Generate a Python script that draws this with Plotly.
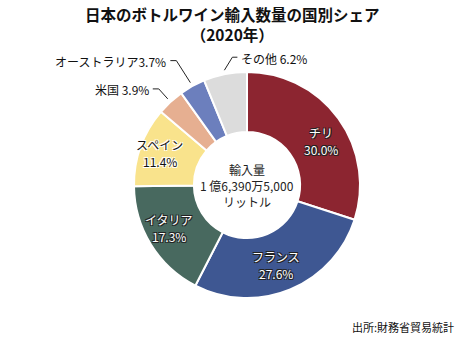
import math
import plotly.graph_objects as go

# ---- data ----
countries = ["チリ", "フランス", "イタリア", "スペイン", "米国", "オーストラリア", "その他"]
shares = [30.0, 27.6, 17.3, 11.4, 3.9, 3.7, 6.2]
colors = ["#8C2530", "#3E5792", "#48695F", "#F9E38C", "#E6AF91", "#6C7FBD", "#DCDCDC"]
title_lines = ["日本のボトルワイン輸入数量の国別シェア", "（2020年）"]
center_lines = ["輸入量", "1 億6,390万5,000", "リットル"]
source_text = "出所:財務省貿易統計"

# ---- geometry / style ----
W, H = 465, 340
CX, CY, R = 247, 185, 113
HOLE = 0.47
FONT = "Noto Sans CJK JP"
L, T = CX - R, CY - R


def to_paper(px, py):
    return (px - L) / (2 * R), 1 - (py - T) / (2 * R)


total = sum(shares)
mids = []
acc = 0.0
for v in shares:
    mids.append(360.0 * (acc + v / 2) / total)
    acc += v


def polar(deg, r):
    a = math.radians(deg)
    return CX + r * math.sin(a), CY - r * math.cos(a)


fig = go.Figure(go.Pie(
    labels=countries, values=shares, sort=False, direction="clockwise",
    rotation=0, hole=HOLE, textinfo="none", hoverinfo="label+percent",
    marker=dict(colors=colors, line=dict(color="white", width=2)),
    showlegend=False,
))

annotations = []
shapes = []

DARK_OUT = "1px 1px 0 #222, -1px -1px 0 #222, 1px -1px 0 #222, -1px 1px 0 #222"
LIGHT_OUT = "1px 1px 0 #fff, -1px -1px 0 #fff, 1px -1px 0 #fff, -1px 1px 0 #fff"
inside_style = {
    0: dict(color="white", shadow=DARK_OUT, r=86, dang=5.6),
    1: dict(color="white", shadow=DARK_OUT, r=85, dang=2.5),
    2: dict(color="white", shadow=DARK_OUT, r=89, dang=2.5),
    3: dict(color="#111", shadow=LIGHT_OUT, r=93, dang=0.0),
}
LINE_GAP = 17
for i, st in inside_style.items():
    px, py = polar(mids[i] + st["dang"], st["r"])
    for k, line in enumerate([countries[i], f"{shares[i]:.1f}%"]):
        xp, yp = to_paper(px, py + (k - 0.5) * LINE_GAP)
        annotations.append(dict(
            x=xp, y=yp, xref="paper", yref="paper", showarrow=False,
            text=line,
            font=dict(family=FONT, size=12, color=st["color"], shadow=st["shadow"]),
            xanchor="center", yanchor="middle",
        ))

outside_style = {
    4: dict(off=(-9, -10), run=-6, sep=" "),
    5: dict(off=(-14, -22), run=-6, sep=""),
    6: dict(off=(8, -13), run=5, sep=" "),
}
for i, st in outside_style.items():
    ax, ay = polar(mids[i], R + 4)
    ex, ey = ax + st["off"][0], ay + st["off"][1]
    hx, hy = ex + st["run"], ey
    pts = [to_paper(ax, ay), to_paper(ex, ey), to_paper(hx, hy)]
    path = "M {} {} L {} {} L {} {}".format(*[c for p in pts for c in p])
    shapes.append(dict(type="path", xref="paper", yref="paper", path=path,
                       line=dict(color="#222", width=1)))
    tx = hx + (2 if st["run"] > 0 else -2)
    xp, yp = to_paper(tx, hy + 1)
    annotations.append(dict(
        x=xp, y=yp, xref="paper", yref="paper", showarrow=False,
        text=f"{countries[i]}{st['sep']}{shares[i]:.1f}%",
        font=dict(family=FONT, size=12, color="#111"),
        xanchor="left" if st["run"] > 0 else "right", yanchor="middle",
    ))

for k, line in enumerate(center_lines):
    xp, yp = to_paper(CX, CY - 16 + 16 * k)
    annotations.append(dict(
        x=xp, y=yp, xref="paper", yref="paper", showarrow=False, text=line,
        font=dict(family=FONT, size=12, color="#222"),
        xanchor="center", yanchor="middle",
    ))

xp, yp = to_paper(W / 2, 24)
annotations.append(dict(
    x=xp, y=yp, xref="paper", yref="paper",
    showarrow=False, text="<br>".join(f"<b>{t}</b>" for t in title_lines),
    font=dict(family=FONT, size=15.5, color="#111"),
    xanchor="center", yanchor="middle", align="center",
))

xp, yp = to_paper(W - 9, 327)
annotations.append(dict(
    x=xp, y=yp, xref="paper", yref="paper",
    showarrow=False, text=source_text,
    font=dict(family=FONT, size=11, color="#111"),
    xanchor="right", yanchor="middle",
))

fig.update_layout(
    width=W, height=H,
    margin=dict(l=L, r=W - (CX + R), t=T, b=H - (CY + R), pad=0),
    paper_bgcolor="white", plot_bgcolor="white",
    annotations=annotations, shapes=shapes,
)

fig.write_html("out.html")
